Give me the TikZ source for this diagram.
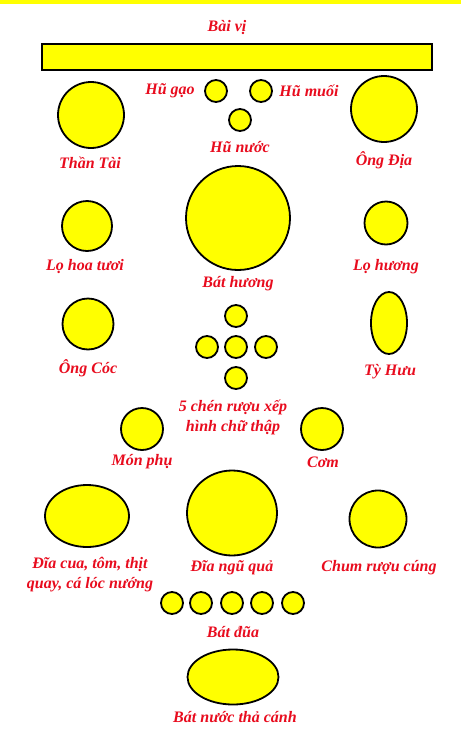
\documentclass[tikz,border=0pt]{standalone}
\usepackage{fontspec}
\setmainfont{Liberation Serif}
\usepackage{tikz}
\usetikzlibrary{shapes.geometric}
\definecolor{vang}{RGB}{255,255,0}
\definecolor{chudo}{RGB}{232,12,30}
\tikzset{
  dia/.style={circle, draw=black, fill=vang, line width=1.8pt, inner sep=0pt, minimum size=#1},
  bau/.style 2 args={ellipse, draw=black, fill=vang, line width=1.8pt, inner sep=0pt, minimum width=#1, minimum height=#2},
  nhan/.style={text=chudo, font=\fontsize{16}{20}\selectfont\bfseries\itshape, align=center, inner sep=0pt}
}

\begin{document}
\begin{tikzpicture}[x=1pt, y=-1pt]
\useasboundingbox (0,0) rectangle (461,731);
\fill[vang] (0,0) rectangle (461,4);

% ban tho
\node[nhan] (baivi) at (227,28) {Bài vị};
\node[draw=black, fill=vang, line width=1.8pt, inner sep=0pt, minimum width=390pt, minimum height=26pt] (bai) at (237,57) {};

\node[dia=66pt] (thantai) at (91,115) {};
\node[nhan] (lthantai) at (90,163) {Thần Tài};
\node[dia=22pt] (hugao) at (216,91) {};
\node[nhan] (lhugao) at (170,91) {Hũ gạo};
\node[dia=22pt] (humuoi) at (261,91) {};
\node[nhan] (lhumuoi) at (309,91) {Hũ muối};
\node[dia=22pt] (hunuoc) at (240,120) {};
\node[nhan] (lhunuoc) at (240,147) {Hũ nước};
\node[dia=66pt] (ongdia) at (384,109) {};
\node[nhan] (longdia) at (384,160) {Ông Địa};

\node[dia=104pt] (bathuong) at (238,218) {};
\node[nhan] (lbathuong) at (238,284) {Bát hương};
\node[dia=50pt] (lohoa) at (87,226) {};
\node[nhan] (llohoa) at (85,267) {Lọ hoa tươi};
\node[dia=43pt] (lohuong) at (386,223) {};
\node[nhan] (llohuong) at (386,267) {Lọ hương};

\node[dia=51pt] (ongcoc) at (88,324) {};
\node[nhan] (longcoc) at (88,368) {Ông Cóc};
\node[bau={36pt}{62pt}] (tyhuu) at (389,323) {};
\node[nhan] (ltyhuu) at (390,372) {Tỳ Hưu};

% 5 chen xep chu thap
\node[dia=22pt] (chen1) at (236,316) {};
\node[dia=22pt] (chen2) at (207,347) {};
\node[dia=22pt] (chen3) at (236,347) {};
\node[dia=22pt] (chen4) at (266,347) {};
\node[dia=22pt] (chen5) at (236,378) {};
\node[nhan] (lchen) at (233,417) {5 chén rượu xếp\\hình chữ thập};

\node[dia=42pt] (monphu) at (142,429) {};
\node[nhan] (lmonphu) at (142,462) {Món phụ};
\node[dia=42pt] (com) at (322,429) {};
\node[nhan] (lcom) at (323,462) {Cơm};

\node[bau={84pt}{62pt}] (diacua) at (87,516) {};
\node[nhan] (ldiacua) at (90,575) {Đĩa cua, tôm, thịt\\quay, cá lóc nướng};
\node[bau={90pt}{85pt}] (diangu) at (232,513) {};
\node[nhan] (ldiangu) at (232,568) {Đĩa ngũ quả};
\node[dia=57pt] (chum) at (378,519) {};
\node[nhan] (lchum) at (379,568) {Chum rượu cúng};

% bat dua
\foreach \x [count=\i] in {172,201,232,262,293}
  \node[dia=22pt] (bat\i) at (\x,603) {};
\node[nhan] (lbatdua) at (233,632) {Bát đũa};

\node[bau={91pt}{55pt}] (batnuoc) at (233,677) {};
\node[nhan] (lbatnuoc) at (235,717) {Bát nước thả cánh};
\end{tikzpicture}
\end{document}
